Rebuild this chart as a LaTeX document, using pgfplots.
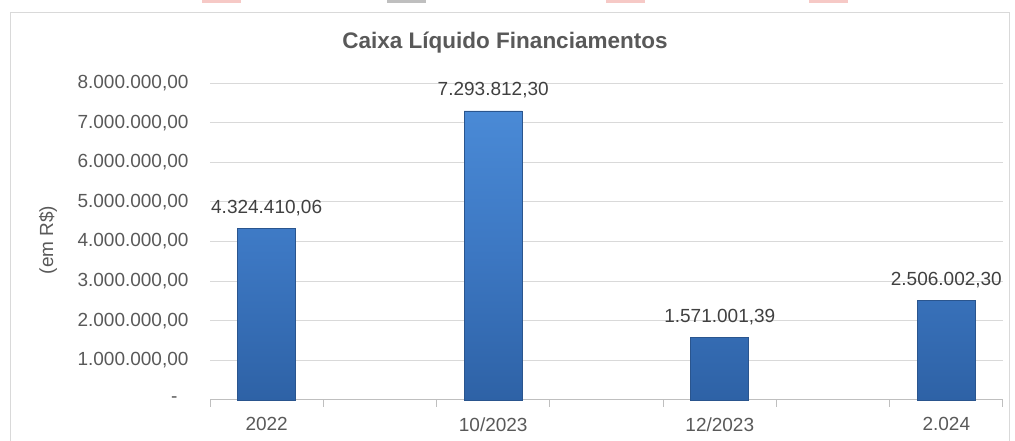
\documentclass[border=0pt]{standalone}
\usepackage{pgfplots}
\pgfplotsset{compat=1.18}
\usepackage{fontspec}
\setmainfont{Liberation Sans}
\definecolor{txtGray}{HTML}{595959}
\definecolor{lblGray}{HTML}{404040}
\definecolor{gridGray}{HTML}{D9D9D9}
\definecolor{axGray}{HTML}{BFBFBF}
\definecolor{barTop}{HTML}{4A8AD6}
\definecolor{barMid}{HTML}{3C77C2}
\definecolor{barBot}{HTML}{2E62A6}
\definecolor{barEdge}{HTML}{2A558E}
\definecolor{iconPink}{HTML}{F6C9C6}

\begin{document}
\begin{tikzpicture}[x=1pt,y=1pt]
  \useasboundingbox (0,0) rectangle (1015,441);
  % outer chart frame
  \draw[gridGray, line width=1pt] (10,-10) -- (10,428) -- (1009,428) -- (1009,-10);
  % cut-off icons along the top edge
  \fill[iconPink] (202,438) rectangle (241,441);
  \fill[axGray]   (387,438) rectangle (426,441);
  \fill[iconPink] (606,438) rectangle (645,441);
  \fill[iconPink] (809,438) rectangle (848,441);

  \begin{axis}[
      at={(210pt,41pt)}, anchor=south west,
      scale only axis, width=793pt, height=317pt,
      ybar, bar width=58pt,
      xmin=-0.5, xmax=6.5, ymin=0, ymax=8000000,
      xtick={0,2,4,6},
      xticklabels={2022,10/2023,12/2023,2.024},
      minor xtick={-0.5,0.5,1.5,2.5,3.5,4.5,5.5,6.5},
      ytick={0,1000000,2000000,3000000,4000000,5000000,6000000,7000000,8000000},
      yticklabels={{-\hspace*{11pt}},{1.000.000,00},{2.000.000,00},{3.000.000,00},{4.000.000,00},
                   {5.000.000,00},{6.000.000,00},{7.000.000,00},{8.000.000,00}},
      scaled y ticks=false,
      axis lines*=left,
      y axis line style={draw=none},
      x axis line style={draw=axGray, line width=1pt, -},
      tick align=outside,
      major tick length=0pt, minor tick length=7pt,
      minor tick style={draw=axGray, line width=1pt},
      ymajorgrids, grid style={draw=gridGray, line width=1pt},
      tick label style={font=\fontsize{19}{22}\selectfont, text=txtGray},
      yticklabel style={xshift=-18pt},
      xticklabel style={yshift=-14pt},
      point meta=explicit symbolic,
      nodes near coords,
      nodes near coords style={font=\fontsize{19}{22}\selectfont, text=lblGray, yshift=9pt},
      clip=false]
    \addplot[draw=barEdge, line width=0.8pt, top color=barTop, bottom color=barBot, middle color=barMid]
      coordinates {(0,4324410.06) [4.324.410,06]
                   (2,7293812.30) [7.293.812,30]
                   (4,1571001.39) [1.571.001,39]
                   (6,2506002.30) [2.506.002,30]};
  \end{axis}

  \node[font=\bfseries\fontsize{22.5}{26}\selectfont, text=txtGray] at (505,398) {Caixa Líquido Financiamentos};
  \node[rotate=90, font=\fontsize{19}{22}\selectfont, text=txtGray] at (48,201) {(em R\$)};
\end{tikzpicture}
\end{document}
